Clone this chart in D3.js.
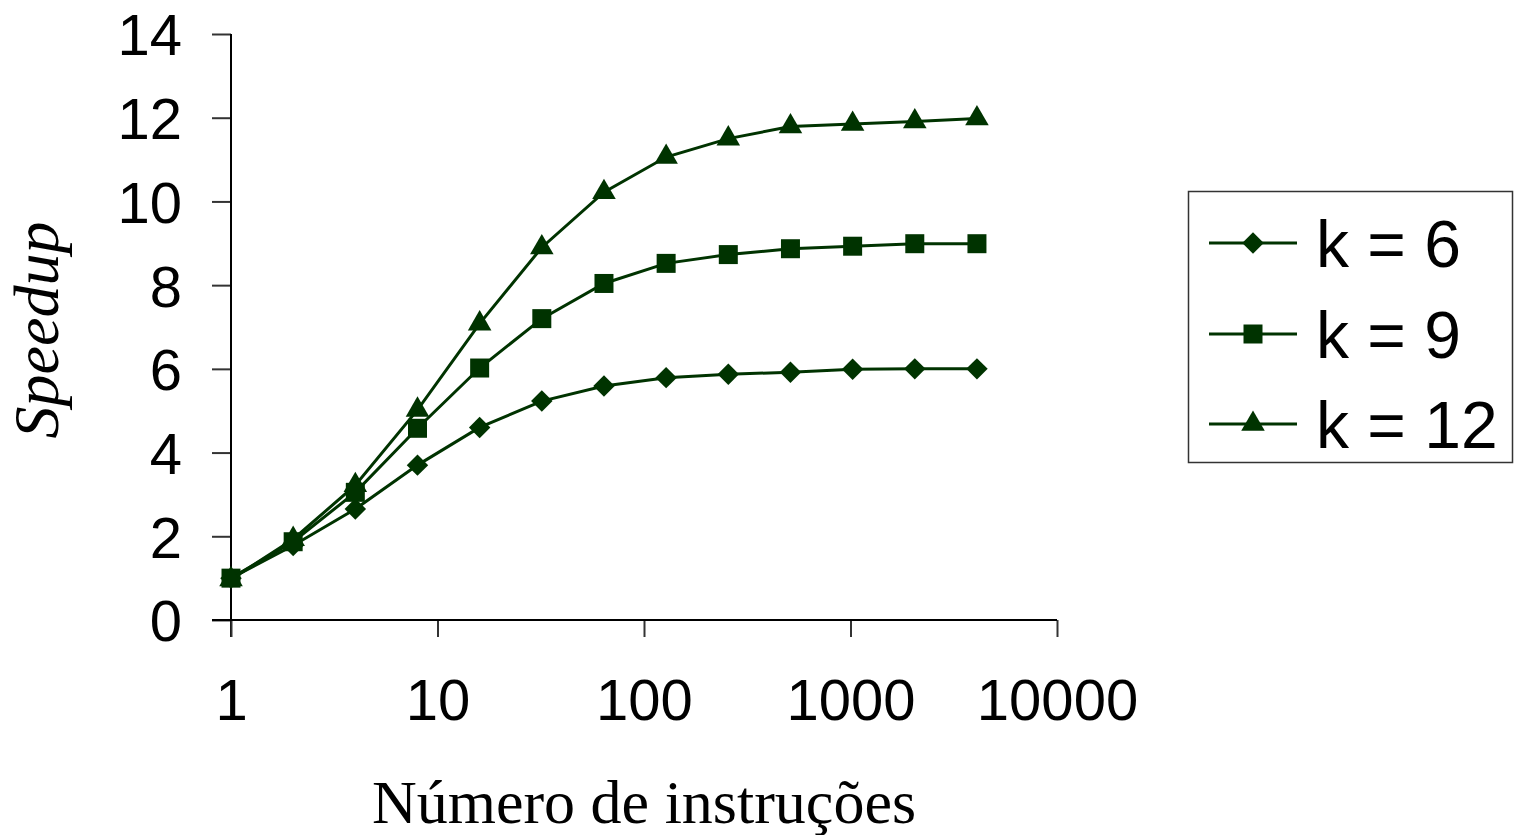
<!DOCTYPE html>
<html>
<head>
<meta charset="utf-8">
<script src="https://cdn.jsdelivr.net/npm/d3@7"></script>
<style>
    body { margin: 0; background: #fff; }
    svg { display: block; }
</style>
</head>
<body>
<script>
//chart data
var instructions = [1, 2, 4, 8, 16, 32, 64, 128, 256, 512, 1024, 2048, 4096];
var k6 = [1.0, 1.78, 2.65, 3.7, 4.6, 5.23, 5.59, 5.79, 5.87, 5.92, 5.99, 6.0, 6.0];
var k9 = [1.0, 1.87, 3.05, 4.58, 6.02, 7.2, 8.04, 8.52, 8.73, 8.87, 8.93, 8.99, 8.99];
var k12 = [0.97, 1.93, 3.22, 5.02, 7.08, 8.9, 10.22, 11.06, 11.5, 11.79, 11.85, 11.91, 11.98];
var seriesNames = ["k = 6", "k = 9", "k = 12"];
var xTicks = [1, 10, 100, 1000, 10000];
var yTicks = [0, 2, 4, 6, 8, 10, 12, 14];

window.onload = drawChart();

function drawChart() {

    var width = 1514,
        height = 835,
        green = "#003300";

    var svg = d3.select("body")
        .append("svg")
        .attr("width", width)
        .attr("height", height);

    var x = d3.scaleLog()
        .domain([1, 10000])
        .range([231, 1057]);

    var y = d3.scaleLinear()
        .domain([0, 14])
        .range([620, 34]);

    //y axis, ticks pointing left
    var yAxis = svg.append("g")
        .attr("transform", "translate(231,0)")
        .call(d3.axisLeft(y).tickValues(yTicks).tickSize(19).tickPadding(30).tickFormat(d3.format("d")));
    yAxis.select(".domain").remove();
    yAxis.append("line")
        .attr("x1", 0).attr("x2", 0)
        .attr("y1", y(14)).attr("y2", 637)
        .attr("stroke", "#000").attr("stroke-width", 2);

    //x axis, ticks pointing down
    var xAxis = svg.append("g")
        .attr("transform", "translate(0,620)")
        .call(d3.axisBottom(x).tickValues(xTicks).tickSize(17).tickPadding(42).tickFormat(d3.format("d")));
    xAxis.select(".domain").remove();
    xAxis.append("line")
        .attr("x1", 212).attr("x2", x(10000))
        .attr("y1", 0).attr("y2", 0)
        .attr("stroke", "#000").attr("stroke-width", 2);

    svg.selectAll(".tick line")
        .attr("stroke", "#333")
        .attr("stroke-width", 2);
    svg.selectAll(".tick text")
        .attr("font-family", "Liberation Sans, Arial, sans-serif")
        .attr("font-size", 58)
        .attr("fill", "#000");
    yAxis.selectAll(".tick text").attr("dy", "0.36em");
    xAxis.selectAll(".tick text").attr("dy", "0.71em");

    //marker shapes (diamond is a rotated square)
    var shapes = [
        d3.symbol().type(d3.symbolSquare).size(230),
        d3.symbol().type(d3.symbolSquare).size(361),
        d3.symbol().type(d3.symbolTriangle).size(240)
    ];
    var rotations = [45, 0, 0];

    var allSeries = [k6, k9, k12];

    var line = d3.line()
        .x(function(d, i){ return x(instructions[i]); })
        .y(function(d){ return y(d); });

    allSeries.forEach(function(values, s) {
        svg.append("path")
            .datum(values)
            .attr("fill", "none")
            .attr("stroke", green)
            .attr("stroke-width", 3)
            .attr("d", line);

        svg.selectAll(".marker" + s)
            .data(values)
            .enter()
            .append("path")
            .attr("class", "marker" + s)
            .attr("d", shapes[s])
            .attr("fill", green)
            .attr("transform", function(d, i){
                return "translate(" + x(instructions[i]) + "," + y(d) + ") rotate(" + rotations[s] + ")";
            });
    });

    //legend
    var legend = svg.append("g");
    legend.append("rect")
        .attr("x", 1188.5).attr("y", 191.5)
        .attr("width", 324).attr("height", 271)
        .attr("fill", "#fff")
        .attr("stroke", "#333")
        .attr("stroke-width", 1.5);

    var rowY = [243, 334, 424];
    seriesNames.forEach(function(name, s) {
        legend.append("line")
            .attr("x1", 1209).attr("x2", 1297)
            .attr("y1", rowY[s]).attr("y2", rowY[s])
            .attr("stroke", green).attr("stroke-width", 3);
        legend.append("path")
            .attr("d", shapes[s])
            .attr("fill", green)
            .attr("transform", "translate(1253," + rowY[s] + ") rotate(" + rotations[s] + ")");
        legend.append("text")
            .attr("x", 1316)
            .attr("y", rowY[s])
            .attr("dy", "0.36em")
            .attr("font-family", "Liberation Sans, Arial, sans-serif")
            .attr("font-size", 66)
            .text(name);
    });

    //axis titles
    svg.append("text")
        .attr("x", 644)
        .attr("y", 823)
        .attr("text-anchor", "middle")
        .attr("font-family", "Liberation Serif, Times New Roman, serif")
        .attr("font-size", 62)
        .text("Número de instruções");

    svg.append("text")
        .attr("transform", "translate(58,330) rotate(-90)")
        .attr("text-anchor", "middle")
        .attr("font-family", "Liberation Serif, Times New Roman, serif")
        .attr("font-style", "italic")
        .attr("font-size", 64)
        .text("Speedup");
}
</script>
</body>
</html>
